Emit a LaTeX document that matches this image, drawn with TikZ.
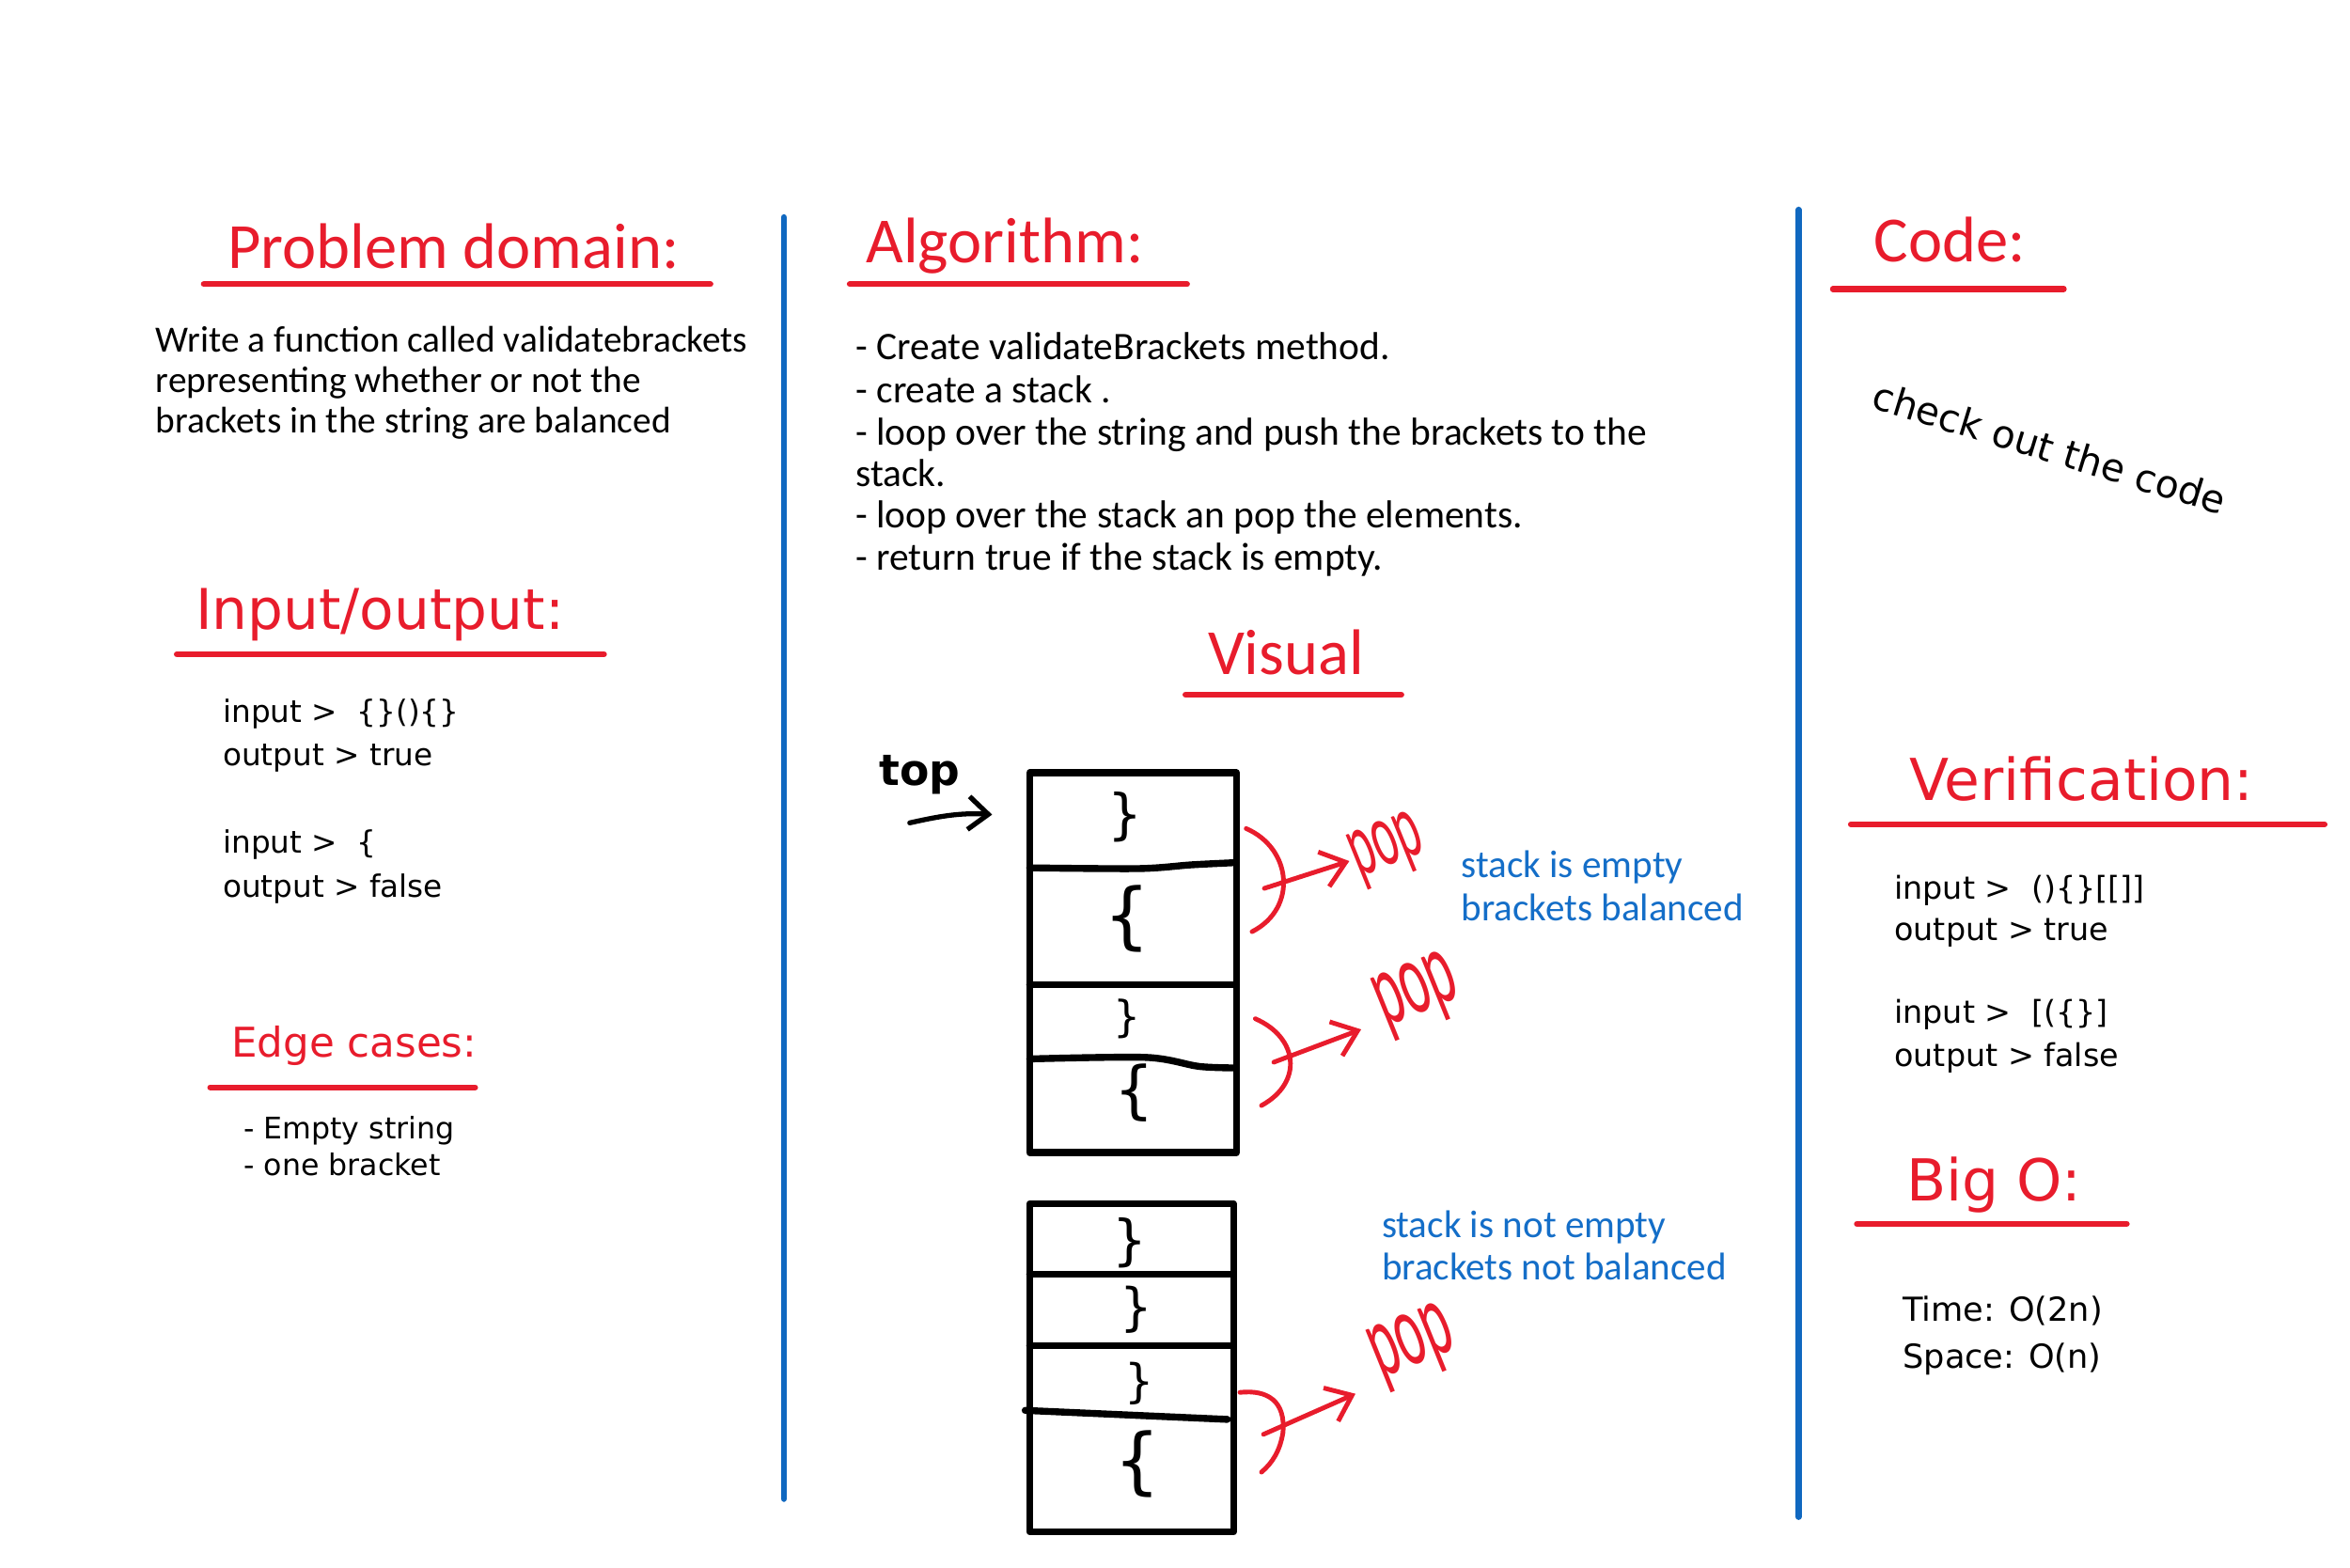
\documentclass[tikz,border=0pt]{standalone}
\usepackage{fontspec}
\setmainfont{Carlito}
\newfontfamily\widefont{DejaVu Sans}
\newfontfamily\popfont{Carlito}[FakeStretch=0.5]
\usetikzlibrary{arrows.meta}
\definecolor{hred}{RGB}{232,28,44}
\definecolor{hblue}{RGB}{16,104,192}
\definecolor{tblue}{RGB}{20,110,200}
\tikzset{
 txt/.style={anchor=base west, inner sep=0pt, outer sep=0pt},
 ctitle/.style={txt, text=hred, font=\fontsize{19.5}{22}\selectfont},
 wtitle/.style={txt, text=hred, font=\widefont\fontsize{#1}{20}\selectfont},
 uline/.style={hred, line width=1.8pt, line cap=round},
 sepline/.style={hblue, line width=1.9pt, line cap=round},
 body/.style={txt, font=\fontsize{11.2}{13}\selectfont},
 algo/.style={txt, font=\fontsize{11.8}{13}\selectfont},
 wbody/.style={txt, font=\widefont\fontsize{#1}{11}\selectfont},
 note/.style={txt, text=tblue, font=\fontsize{11.7}{13}\selectfont},
 stk/.style={line width=2.1pt, line cap=round, line join=round},
 brc/.style={inner sep=0pt, font=\widefont\fontsize{#1}{#1}\selectfont},
 popt/.style={inner sep=0pt, text=hred, font=\popfont\fontsize{#1}{#1}\selectfont},
 curl/.style={hred, line width=1.4pt, line cap=round},
 popar/.style={hred, line width=1.4pt, line cap=round, -{Straight Barb[length=7pt,width=11pt]}},
 toparrow/.style={line width=1.5pt, line cap=round, -{Straight Barb[length=6pt,width=10pt]}}
}
\begin{document}
\begin{tikzpicture}[x=0.015944cm, y=-0.015944cm]
\useasboundingbox (0,0) rectangle (1568,1045.6);
\fill[white] (0,0) rectangle (1568,1045.6);

% separators
\draw[sepline] (523,145) -- (523,1000);
\draw[sepline] (1200,140) -- (1200,1012);

% ---- Problem domain
\node[ctitle] (pdt) at (152,179) {Problem domain:};
\draw[uline] (136,189.6) -- (474,189.6);
\node[body] (pd1) at (104,235) {Write a function called validatebrackets};
\node[body] (pd2) at (104,262) {representing whether or not the};
\node[body] (pd3) at (104,289) {brackets in the string are balanced};

% ---- Input/output
\node[wtitle=17] (iot) at (130.5,420) {Input/output:};
\draw[uline] (118,436.5) -- (403,436.5);
\node[wbody=9.3] (io1) at (148.8,481.8) {input >\ \ \{\}()\{\}};
\node[wbody=9.3] (io2) at (148.8,510.7) {output > true};
\node[wbody=9.3] (io3) at (148.8,569) {input >\ \ \{};
\node[wbody=9.3] (io4) at (148.8,598.5) {output > false};

% ---- Edge cases
\node[wtitle=12.4] (edt) at (154.4,705.4) {Edge cases:};
\draw[uline] (140.3,725.5) -- (317,725.5);
\node[wbody=9] (ed1) at (162.6,760) {- Empty string};
\node[wbody=9] (ed2) at (162.6,784) {- one bracket};

% ---- Algorithm
\node[ctitle] (alt) at (578,175.6) {Algorithm:};
\draw[uline] (567,189.6) -- (792,189.6);
\node[algo] (al1) at (571,240) {- Create validateBrackets method.};
\node[algo] (al2) at (571,268.6) {- create a stack .};
\node[algo] (al3) at (571,296.9) {- loop over the string and push the brackets to the};
\node[algo] (al4) at (571,324.8) {stack.};
\node[algo] (al5) at (571,352.4) {- loop over the stack an pop the elements.};
\node[algo] (al6) at (571,380.5) {- return true if the stack is empty.};

% ---- Visual
\node[ctitle] (vis) at (806,450) {Visual};
\draw[uline] (791,463.5) -- (935,463.5);

\node[txt, font=\widefont\bfseries\fontsize{13}{14}\selectfont] (top) at (586.7,523.8) {top};
\coordinate (topfrom) at (607,549);
\coordinate (topto) at (662,543.5);
\draw[toparrow] (topfrom) .. controls (625,545) and (640,542) .. (topto);

% stack 1
\draw[stk] (687,515.6) -- (825,515.6) -- (825,769) -- (687,769) -- cycle;
\draw[stk] plot[smooth] coordinates {(687,579) (760,579.5) (795,577) (825,575.5)};
\draw[stk] (687,657) -- (825,657);
\draw[stk] plot[smooth] coordinates {(687,706.5) (765,705.5) (800,711.5) (825,712.5)};
\node[brc=16.5] (s1a) at (751,545) {\}};
\node[brc=22] (s1b) at (752,613) {\{};
\node[brc=13] (s1c) at (752,680) {\}};
\node[brc=19] (s1d) at (757,729) {\{};

% stack 2
\draw[stk] (687,803) -- (823,803) -- (823,1022) -- (687,1022) -- cycle;
\draw[stk] (687,850) -- (823,850);
\draw[stk] (687,898) -- (823,898);
\draw[stk] (684,941) -- (819,947);
\node[brc=16.5] (s2a) at (754,829) {\}};
\node[brc=15.5] (s2b) at (758,874) {\}};
\node[brc=14] (s2c) at (760,923) {\}};
\node[brc=22] (s2d) at (759,977) {\{};

% pops
\draw[curl] (831.5,552.8) .. controls (862,566) and (866,606) .. (835.4,621.6);
\coordinate (b1) at (843.6,592.7);
\coordinate (a1) at (900.3,574.5);
\draw[popar] (b1) -- (a1);
\node[popt=28, rotate=22] (pop1) at (926,567) {pop};

\draw[curl] (837.6,679.7) .. controls (866,692) and (870,722) .. (841.7,737.6);
\coordinate (b2) at (849.9,708.7);
\coordinate (a2) at (908.2,686.8);
\draw[popar] (b2) -- (a2);
\node[popt=32, rotate=22] (pop2) at (946,664) {pop};

\draw[curl] (827.3,929) .. controls (846,927) and (858,935) .. (856,956) .. controls (854,968) and (849,976) .. (841.7,982.2);
\coordinate (b3) at (843,957);
\coordinate (a3) at (904.4,929.9);
\draw[popar] (b3) -- (a3);
\node[popt=32, rotate=22] (pop3) at (943,899) {pop};

\node[note] (n1) at (975,585.4) {stack is empty};
\node[note] (n2) at (975,614.5) {brackets balanced};
\node[note] (n3) at (922,825.5) {stack is not empty};
\node[note] (n4) at (922,854) {brackets not balanced};

% ---- Code
\node[ctitle] (cdt) at (1250.6,174.5) {Code:};
\draw[uline] (1223,192.8) -- (1377,192.8);
\node[txt, rotate=-17, font=\widefont\fontsize{11.6}{13}\selectfont] (cod) at (1248,272) {check out the code};

% ---- Verification
\node[wtitle=17.5] (vft) at (1274,534) {Verification:};
\draw[uline] (1235,550) -- (1551,550);
\node[wbody=9.5] (vf1) at (1264,600) {input >\ \ ()\{\}[[]]};
\node[wbody=9.5] (vf2) at (1264,627.6) {output > true};
\node[wbody=9.5] (vf3) at (1264,683) {input >\ \ [(\{\}]};
\node[wbody=9.5] (vf4) at (1264,711.3) {output > false};

% ---- Big O
\node[wtitle=17.5] (bot) at (1272,801.4) {Big O:};
\draw[uline] (1239,816.5) -- (1419,816.5);
\node[wbody=10] (bo1) at (1269.7,881.6) {Time: O(2n)};
\node[wbody=10] (bo2) at (1269.7,912.6) {Space: O(n)};
\end{tikzpicture}
\end{document}
